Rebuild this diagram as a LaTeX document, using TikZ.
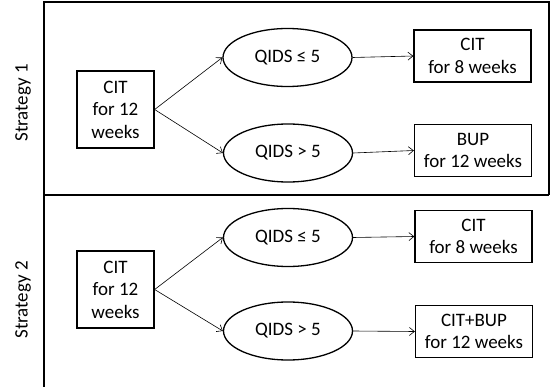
\documentclass[tikz,border=0pt]{standalone}
\usepackage{fontspec}
\setmainfont{Carlito}
\usetikzlibrary{shapes.geometric,arrows.meta}

\begin{document}
\begin{tikzpicture}[x=1pt,y=-1pt,
  every node/.style={font=\fontsize{19}{22.5}\selectfont},
  treat/.style={draw,line width=1.3pt,align=center,inner sep=0pt},
  startbox/.style={treat,minimum width=77pt,minimum height=77pt},
  endbox/.style={treat,minimum width=117pt,minimum height=52pt},
  cond/.style={draw,ellipse,line width=1.3pt,inner sep=0pt,minimum width=129pt,minimum height=58pt},
  flow/.style={line width=0.6pt,-{Straight Barb[length=5pt,width=8pt]}},
  frame/.style={line width=1.2pt}
]
\useasboundingbox (0,0) rectangle (551,387);

% panel frame
\coordinate (tl) at (44,2);
\coordinate (tr) at (549,2);
\coordinate (ml) at (44,195);
\coordinate (mr) at (549,195);
\coordinate (bl) at (44,387);
\draw[frame] (bl) -- (tl) -- (tr) -- (mr);
\draw[frame] (ml) -- (mr);

% side labels
\node[rotate=90] (s1) at (23,103) {Strategy 1};
\node[rotate=90] (s2) at (23,300) {Strategy 2};

% strategy 1
\node[startbox] (a0) at (115.5,109.5) {CIT\\for 12\\weeks};
\node[cond] (a1) at (287.5,57.5) {QIDS ≤ 5};
\node[cond] (a2) at (288,153) {QIDS > 5};
\node[endbox] (a3) at (472.5,56) {CIT\\for 8 weeks};
\node[endbox] (a4) at (473,150.5) {BUP\\for 12 weeks};
\draw[flow] (a0.east) -- (a1.west);
\draw[flow] (a0.east) -- (a2.west);
\draw[flow] (a1.east) -- (a3.west);
\draw[flow] (a2.east) -- (a4.west);

% strategy 2
\node[startbox] (b0) at (115.5,289.5) {CIT\\for 12\\weeks};
\node[cond] (b1) at (288,237.5) {QIDS ≤ 5};
\node[cond] (b2) at (288,331) {QIDS > 5};
\node[endbox] (b3) at (473.5,236.5) {CIT\\for 8 weeks};
\node[endbox] (b4) at (474,331.5) {CIT+BUP\\for 12 weeks};
\draw[flow] (b0.east) -- (b1.west);
\draw[flow] (b0.east) -- (b2.west);
\draw[flow] (b1.east) -- (b3.west);
\draw[flow] (b2.east) -- (b4.west);
\end{tikzpicture}
\end{document}
